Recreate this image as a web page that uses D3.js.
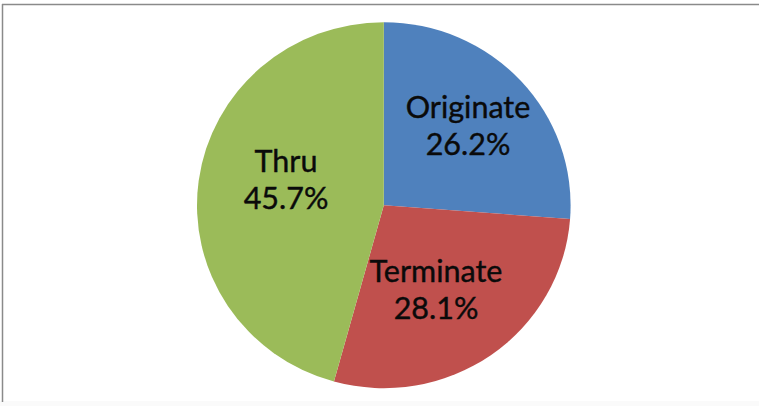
<!DOCTYPE html>
<html>
<head>
<meta charset="utf-8">
<script src="https://cdn.jsdelivr.net/npm/d3@7"></script>
<style>
  html, body { margin: 0; padding: 0; background: #fff; }
  svg { display: block; }
</style>
</head>
<body>
<svg id="chart" width="759" height="406"></svg>
<script>
// Traffic share by movement type
const categories = ["Originate", "Terminate", "Thru"];
const shares = [26.2, 28.1, 45.7];
const colors = ["#4F81BD", "#C0504D", "#9BBB59"];

const W = 759, H = 406;
const svg = d3.select("#chart");

// Frame: faint bottom band, then top and left rules
svg.append("rect").attr("x", 0).attr("y", 401).attr("width", W).attr("height", 5).attr("fill", "#fafafa");
svg.append("line").attr("x1", 2).attr("x2", W).attr("y1", 4.5).attr("y2", 4.5)
  .attr("stroke", "#8a8a8a").attr("stroke-width", 1.5);
svg.append("line").attr("x1", 2.5).attr("x2", 2.5).attr("y1", 4).attr("y2", 402)
  .attr("stroke", "#8a8a8a").attr("stroke-width", 1.5);

const data = categories.map((c, i) => ({ name: c, value: shares[i], color: colors[i] }));

const cx = 383.8, cy = 205.2;
const rx = 186.8, ry = 183;
const r = 183;

const pie = d3.pie().sort(null).value(d => d.value);
const arc = d3.arc().innerRadius(0).outerRadius(r);
const arcs = pie(data);

// Slightly wider than tall, as in the plot area
const g = svg.append("g")
  .attr("transform", `translate(${cx},${cy}) scale(${rx / r},${ry / r})`);

g.selectAll("path.slice")
  .data(arcs)
  .join("path")
  .attr("class", "slice")
  .attr("d", arc)
  .attr("fill", d => d.data.color);

// Label anchor points inside each slice
const labelPos = {
  Originate: [468, 118],
  Terminate: [436, 282],
  Thru: [286, 172]
};

const labels = svg.append("g")
  .attr("font-family", "Lato, 'Open Sans', sans-serif")
  .attr("font-size", 30.5)
  .attr("fill", "#0a0a0a")
  .attr("stroke", "#0a0a0a")
  .attr("stroke-width", 0.4)
  .attr("text-anchor", "middle");

arcs.forEach(d => {
  const [x, y] = labelPos[d.data.name];
  const t = labels.append("text").attr("x", x).attr("y", y);
  t.append("tspan").attr("x", x).text(d.data.name);
  t.append("tspan").attr("x", x).attr("dy", 37).text(d.data.value.toFixed(1) + "%");
});
</script>
</body>
</html>
